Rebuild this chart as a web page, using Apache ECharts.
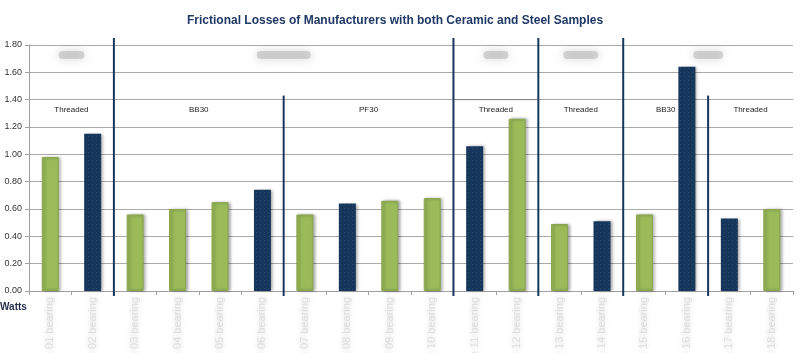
<!DOCTYPE html>
<html>
<head>
<meta charset="utf-8">
<script src="https://cdn.jsdelivr.net/npm/echarts@6/dist/echarts.min.js"></script>
<style>
  html, body { margin: 0; padding: 0; background: #fff; }
  #main { width: 800px; height: 353px; }
</style>
</head>
<body>
<div id="main"></div>
<script>
  // samples (names are blurred in the original)
  const samples = ['Sample 01 bearing', 'Sample 02 bearing', 'Sample 03 bearing', 'Sample 04 bearing',
    'Sample 05 bearing', 'Sample 06 bearing', 'Sample 07 bearing', 'Sample 08 bearing', 'Sample 09 bearing',
    'Sample 10 bearing', 'Sample 11 bearing', 'Sample 12 bearing', 'Sample 13 bearing', 'Sample 14 bearing',
    'Sample 15 bearing', 'Sample 16 bearing', 'Sample 17 bearing', 'Sample 18 bearing'];

  // Watts, green bars and navy bars (null = no bar of that kind)
  const greenValues = [0.98, null, 0.56, 0.60, 0.65, null, 0.56, null, 0.66, 0.68, null, 1.26, 0.49, null, 0.56, null, null, 0.60];
  const navyValues = [null, 1.15, null, null, null, 0.74, null, 0.64, null, null, 1.06, null, null, 0.51, null, 1.64, 0.53, null];

  // bottom bracket type groups (category index ranges)
  const typeLabels = ['Threaded', 'BB30', 'PF30', 'Threaded', 'Threaded', 'BB30', 'Threaded'];
  const typeStart = [0, 2, 6, 10, 12, 14, 16];
  const typeEnd = [2, 6, 10, 12, 14, 16, 18];

  // manufacturer groups (names blurred)
  const mfrStart = [0, 2, 10, 12, 14];
  const mfrEnd = [2, 10, 12, 14, 18];

  const NAVY = '#17365d';
  const GREEN = '#9bbb59';
  const blobWidth = [26, 54, 25, 35, 30];

  let chart = echarts.init(document.getElementById('main'));

  // separators between groups
  let sepData = [];
  mfrStart.forEach(function (s) { if (s > 0) sepData.push([s, 1]); });
  typeStart.forEach(function (s) {
    if (s > 0 && mfrStart.indexOf(s) < 0) sepData.push([s, 0]);
  });

  chart.setOption({
    animation: false,
    title: {
      text: 'Frictional Losses of Manufacturers with both Ceramic and Steel Samples',
      left: 182,
      top: 10,
      textStyle: { fontFamily: 'Liberation Sans', fontSize: 12, fontWeight: 'bold', color: '#1f3864' }
    },
    grid: { left: 29, right: 7, top: 45, bottom: 62, containLabel: false, outerBoundsMode: 'none' },
    xAxis: [
      {
        type: 'category',
        data: samples,
        axisLine: { lineStyle: { color: '#a0a0a0' } },
        axisTick: { show: true, length: 4, lineStyle: { color: '#a0a0a0' } },
        axisLabel: {
          rotate: 90,
          margin: 6,
          fontSize: 11,
          fontFamily: 'Liberation Sans',
          color: 'rgba(170,170,170,0.3)',
          textShadowColor: 'rgba(110,110,110,1)',
          textShadowBlur: 5
        }
      },
      { type: 'value', min: 0, max: 18, show: false }
    ],
    yAxis: {
      type: 'value',
      min: 0,
      max: 1.8,
      interval: 0.2,
      axisLine: { show: true, lineStyle: { color: '#a0a0a0' } },
      axisTick: { show: true, length: 4, lineStyle: { color: '#a0a0a0' } },
      axisLabel: {
        margin: 7,
        fontSize: 9,
        fontFamily: 'Liberation Sans',
        color: '#333',
        formatter: function (v) { return v.toFixed(2); }
      },
      splitLine: { lineStyle: { color: '#aaaaaa' } }
    },
    graphic: [{
      type: 'text',
      left: 0,
      top: 302,
      style: { text: 'Watts', font: 'bold 10px "Liberation Sans"', fill: '#1f2d4a' }
    }],
    series: [
      {
        name: 'green',
        type: 'bar',
        data: greenValues,
        barWidth: 17,
        barGap: '-100%',
        itemStyle: {
          color: GREEN,
          borderColor: '#8aa54d',
          borderWidth: 1,
          shadowColor: 'rgba(0,0,0,0.35)',
          shadowBlur: 3,
          shadowOffsetX: 2
        }
      },
      {
        name: 'navy',
        type: 'bar',
        data: navyValues,
        barWidth: 17,
        barGap: '-100%',
        itemStyle: {
          color: NAVY,
          shadowColor: 'rgba(0,0,0,0.35)',
          shadowBlur: 3,
          shadowOffsetX: 2,
          decal: {
            symbol: 'rect',
            symbolSize: 0.5,
            dashArrayX: [1, 3],
            dashArrayY: [1, 3],
            color: 'rgba(170,185,210,0.55)',
            rotation: 0
          }
        }
      },
      {
        // group separators
        type: 'custom',
        xAxisIndex: 1,
        silent: true,
        clip: false,
        data: sepData,
        renderItem: function (params, api) {
          let x = api.value(0);
          let full = api.value(1);
          let top = full ? api.coord([x, 1.8]) : api.coord([x, 1.43]);
          let bottom = api.coord([x, 0]);
          return {
            type: 'line',
            shape: { x1: top[0], y1: full ? top[1] - 7 : top[1], x2: bottom[0], y2: bottom[1] + 5 },
            style: { stroke: NAVY, lineWidth: 2 }
          };
        }
      },
      {
        // bracket type labels
        type: 'custom',
        xAxisIndex: 1,
        silent: true,
        clip: false,
        data: typeLabels.map(function (t, i) { return [typeStart[i], typeEnd[i], t]; }),
        renderItem: function (params, api) {
          let s = api.value(0), e = api.value(1);
          let c = api.coord([(s + e) / 2, 1.4]);
          let children = [{
            type: 'text',
            style: {
              text: typeLabels[params.dataIndex],
              x: c[0], y: c[1] + 10,
              align: 'center', verticalAlign: 'middle',
              font: '8px "Liberation Sans"', fill: '#222'
            }
          }];
          if (params.dataIndex === 3) {
            let a = api.coord([s, 1.4]), b = api.coord([e, 1.4]);
            children.push({
              type: 'line',
              shape: { x1: a[0], y1: a[1], x2: b[0], y2: b[1] },
              style: { stroke: '#555', lineWidth: 1, lineDash: [1, 1] }
            });
          }
          return { type: 'group', children: children };
        }
      },
      {
        // blurred manufacturer names
        type: 'custom',
        xAxisIndex: 1,
        silent: true,
        clip: false,
        data: mfrStart.map(function (s, i) { return [s, mfrEnd[i]]; }),
        renderItem: function (params, api) {
          let c = api.coord([(api.value(0) + api.value(1)) / 2, 1.8]);
          let w = blobWidth[params.dataIndex];
          return {
            type: 'rect',
            shape: { x: c[0] - w / 2, y: c[1] + 6, width: w, height: 8, r: 4 },
            style: {
              fill: 'rgba(160,160,160,0.4)',
              shadowColor: 'rgba(140,140,140,0.9)',
              shadowBlur: 10
            }
          };
        }
      }
    ]
  });
</script>
</body>
</html>
